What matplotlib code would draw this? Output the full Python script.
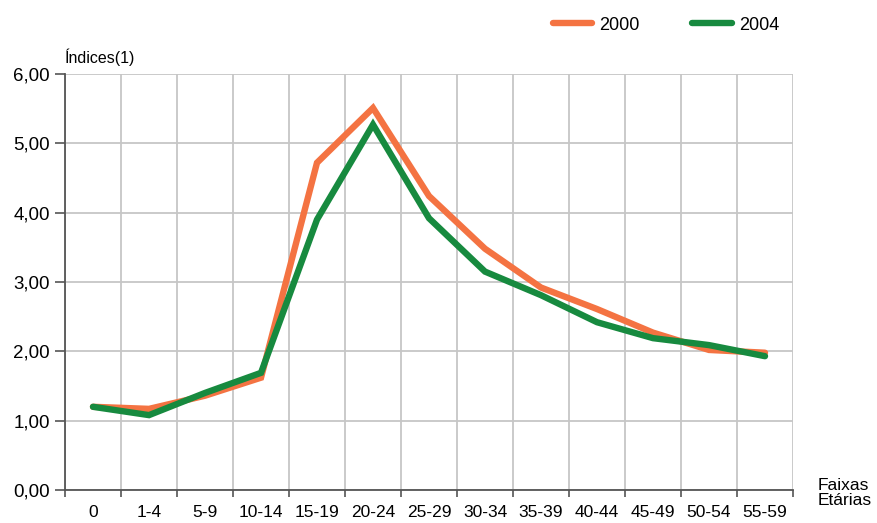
import matplotlib
matplotlib.use("Agg")
import matplotlib.pyplot as plt
import numpy as np

categories = ["0", "1-4", "5-9", "10-14", "15-19", "20-24", "25-29", "30-34",
              "35-39", "40-44", "45-49", "50-54", "55-59"]
s2000 = [1.20, 1.17, 1.36, 1.62, 4.72, 5.51, 4.24, 3.48, 2.92, 2.61, 2.27, 2.02, 1.98]
s2004 = [1.20, 1.08, 1.40, 1.69, 3.90, 5.27, 3.92, 3.15, 2.81, 2.42, 2.19, 2.09, 1.93]
yticks = [0, 1, 2, 3, 4, 5, 6]

plt.rcParams['font.family'] = ['Liberation Sans Narrow', 'Liberation Sans', 'DejaVu Sans']

fig = plt.figure(figsize=(8.77, 5.23), dpi=100)
ax = fig.add_axes([65/877, 1-490/523, (793-65)/877, (490-74)/523])

x = np.arange(len(categories))
ax.plot(x, s2000, color="#F47342", lw=4.6, label="2000", solid_capstyle="round", solid_joinstyle="miter", zorder=3)
ax.plot(x, s2004, color="#178A3F", lw=4.6, label="2004", solid_capstyle="round", solid_joinstyle="miter", zorder=4)

ax.set_xlim(-0.5, len(categories) - 0.5)
ax.set_ylim(0, 6)
ax.set_yticks(yticks)
ax.set_yticklabels([f"{v:.2f}".replace(".", ",") for v in yticks], fontsize=13.5)
ax.set_xticks(x)
ax.set_xticklabels(categories, fontsize=12.5)
ax.set_xticks(np.arange(-0.5, len(categories), 1.0), minor=True)
ax.tick_params(axis='x', which='major', length=0, pad=11)
ax.tick_params(axis='x', which='minor', length=5, width=1.2, color="#555555", direction='out')
ax.tick_params(axis='y', which='major', length=7, width=1.2, color="#555555", direction='out', pad=4)

ax.grid(axis='y', which='major', color="#C6C6C6", lw=1.3, zorder=0)
ax.grid(axis='x', which='minor', color="#C6C6C6", lw=1.3, zorder=0)
ax.set_axisbelow(True)

for s in ['top', 'right']:
    ax.spines[s].set_visible(False)
for s in ['left', 'bottom']:
    ax.spines[s].set_color("#555555")
    ax.spines[s].set_linewidth(1.3)

fig.text(65/877, 1-57/523, "Índices(1)", fontsize=11.5, ha='left', va='center')
fig.text(818/877, 1-493/523, "Faixas\nEtárias", fontsize=12.5, ha='left', va='center', linespacing=1.0)

leg = ax.legend(loc='center', bbox_to_anchor=(666/877, 1-25/523), bbox_transform=fig.transFigure,
                ncol=2, frameon=False, fontsize=13, handlelength=2.2, handletextpad=0.4,
                columnspacing=2.9)

fig.savefig("out.png", dpi=100)
